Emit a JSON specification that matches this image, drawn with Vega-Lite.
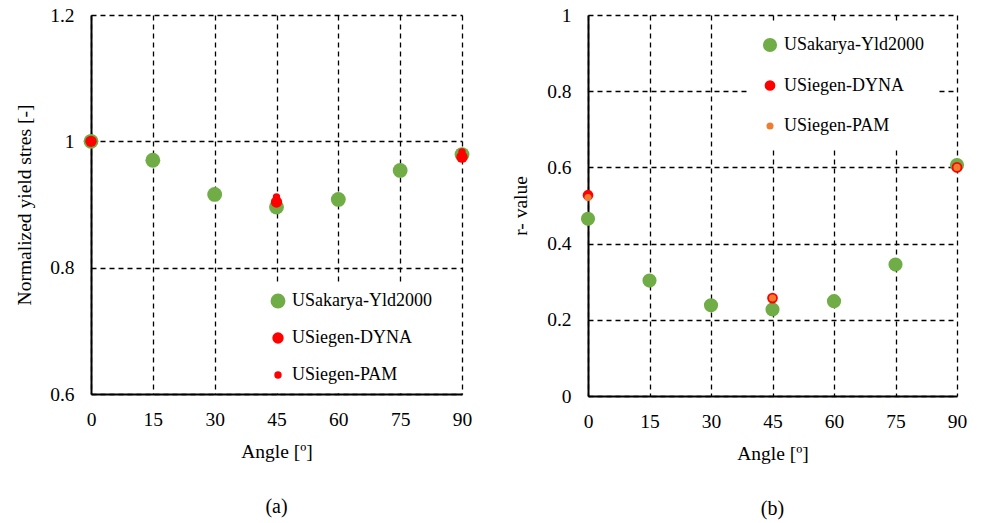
{
  "$schema": "https://vega.github.io/schema/vega-lite/v6.json",
  "padding": {"left": 14, "top": 5, "right": 5, "bottom": 5},
  "background": "white",
  "config": {
    "font": "Liberation Serif",
    "view": {"stroke": null},
    "axis": {
      "labelFont": "Liberation Serif", "labelFontSize": 19.5, "labelColor": "black", "labelFlush": false,
      "titleFont": "Liberation Serif", "titleFontSize": 19.5, "titleFontWeight": "normal", "titleColor": "black",
      "grid": true, "gridColor": "black", "gridDash": [5, 4], "gridWidth": 1.3, "gridOpacity": 1,
      "domainColor": "black", "domainWidth": 2, "ticks": false, "labelPadding": 16
    },
    "legend": {"labelFont": "Liberation Serif", "labelFontSize": 18, "labelColor": "black"},
    "title": {"font": "Liberation Serif", "fontSize": 20, "fontWeight": "normal", "color": "black"}
  },
  "resolve": {
    "scale": {"color": "independent", "size": "independent", "x": "independent", "y": "independent"},
    "legend": {"color": "independent", "size": "independent"}
  },
  "datasets": {
    "yield": [
      {"angle": 0, "value": 1.0, "series": "USakarya-Yld2000"},
      {"angle": 15, "value": 0.970, "series": "USakarya-Yld2000"},
      {"angle": 30, "value": 0.916, "series": "USakarya-Yld2000"},
      {"angle": 45, "value": 0.896, "series": "USakarya-Yld2000"},
      {"angle": 60, "value": 0.908, "series": "USakarya-Yld2000"},
      {"angle": 75, "value": 0.954, "series": "USakarya-Yld2000"},
      {"angle": 90, "value": 0.979, "series": "USakarya-Yld2000"},
      {"angle": 0, "value": 1.0, "series": "USiegen-DYNA"},
      {"angle": 45, "value": 0.904, "series": "USiegen-DYNA"},
      {"angle": 90, "value": 0.975, "series": "USiegen-DYNA"},
      {"angle": 0, "value": 1.0, "series": "USiegen-PAM"},
      {"angle": 45, "value": 0.912, "series": "USiegen-PAM"},
      {"angle": 90, "value": 0.983, "series": "USiegen-PAM"}
    ],
    "rvalue": [
      {"angle": 0, "value": 0.465, "series": "USakarya-Yld2000"},
      {"angle": 15, "value": 0.303, "series": "USakarya-Yld2000"},
      {"angle": 30, "value": 0.238, "series": "USakarya-Yld2000"},
      {"angle": 45, "value": 0.227, "series": "USakarya-Yld2000"},
      {"angle": 60, "value": 0.249, "series": "USakarya-Yld2000"},
      {"angle": 75, "value": 0.345, "series": "USakarya-Yld2000"},
      {"angle": 90, "value": 0.606, "series": "USakarya-Yld2000"},
      {"angle": 0, "value": 0.527, "series": "USiegen-DYNA"},
      {"angle": 45, "value": 0.257, "series": "USiegen-DYNA"},
      {"angle": 90, "value": 0.600, "series": "USiegen-DYNA"},
      {"angle": 0, "value": 0.521, "series": "USiegen-PAM"},
      {"angle": 45, "value": 0.257, "series": "USiegen-PAM"},
      {"angle": 90, "value": 0.600, "series": "USiegen-PAM"}
    ]
  },
  "hconcat": [
    {
      "width": 371, "height": 379,
      "data": {"name": "yield"},
      "title": {"text": "(a)", "orient": "bottom", "offset": 36},
      "mark": {"type": "circle", "opacity": 1},
      "encoding": {
        "x": {"field": "angle", "type": "quantitative", "title": "Angle [º]",
              "scale": {"domain": [0, 90], "nice": false},
              "axis": {"values": [0, 15, 30, 45, 60, 75, 90], "titlePadding": 14}},
        "y": {"field": "value", "type": "quantitative", "title": "Normalized yield stres [-]",
              "scale": {"domain": [0.6, 1.2], "nice": false, "zero": false},
              "axis": {"values": [0.6, 0.8, 1.0, 1.2], "format": "~g", "titlePadding": 15, "labelPadding": 17}},
        "color": {"field": "series", "type": "nominal",
                  "scale": {"domain": ["USakarya-Yld2000", "USiegen-DYNA", "USiegen-PAM"], "range": ["#70AD47", "#FF0000", "#FF0000"]},
                  "legend": {"title": null, "orient": "none", "legendX": 170, "legendY": 269, "padding": 8, "rowPadding": 19, "labelOffset": 5, "fillColor": "white", "symbolType": "circle", "symbolStrokeWidth": 0, "labelFont": "Liberation Serif", "labelFontSize": 18}},
        "size": {"field": "series", "type": "nominal",
                 "scale": {"type": "ordinal", "domain": ["USakarya-Yld2000", "USiegen-DYNA", "USiegen-PAM"], "range": [220, 130, 55]},
                 "legend": {"title": null, "orient": "none", "legendX": 170, "legendY": 269, "padding": 8, "rowPadding": 19, "labelOffset": 5, "fillColor": "white", "symbolType": "circle", "symbolStrokeWidth": 0, "labelFont": "Liberation Serif", "labelFontSize": 18}}
      }
    },
    {
      "width": 369, "height": 381,
      "data": {"name": "rvalue"},
      "title": {"text": "(b)", "orient": "bottom", "offset": 36},
      "mark": {"type": "circle", "opacity": 1},
      "encoding": {
        "x": {"field": "angle", "type": "quantitative", "title": "Angle [º]",
              "scale": {"domain": [0, 90], "nice": false},
              "axis": {"values": [0, 15, 30, 45, 60, 75, 90], "titlePadding": 14}},
        "y": {"field": "value", "type": "quantitative", "title": "r- value",
              "scale": {"domain": [0, 1], "nice": false},
              "axis": {"values": [0, 0.2, 0.4, 0.6, 0.8, 1], "format": "~g", "titlePadding": 16, "labelPadding": 17}},
        "color": {"field": "series", "type": "nominal",
                  "scale": {"domain": ["USakarya-Yld2000", "USiegen-DYNA", "USiegen-PAM"], "range": ["#70AD47", "#FF0000", "#ED7D31"]},
                  "legend": {"title": null, "orient": "none", "legendX": 159, "legendY": 7, "padding": 14, "rowPadding": 22.5, "labelOffset": 5, "fillColor": "white", "symbolType": "circle", "symbolStrokeWidth": 0, "labelFont": "Liberation Serif", "labelFontSize": 18}},
        "size": {"field": "series", "type": "nominal",
                 "scale": {"type": "ordinal", "domain": ["USakarya-Yld2000", "USiegen-DYNA", "USiegen-PAM"], "range": [200, 115, 50]},
                 "legend": {"title": null, "orient": "none", "legendX": 159, "legendY": 7, "padding": 14, "rowPadding": 22.5, "labelOffset": 5, "fillColor": "white", "symbolType": "circle", "symbolStrokeWidth": 0, "labelFont": "Liberation Serif", "labelFontSize": 18}}
      }
    }
  ],
  "spacing": 126,
  "bounds": "flush"
}
